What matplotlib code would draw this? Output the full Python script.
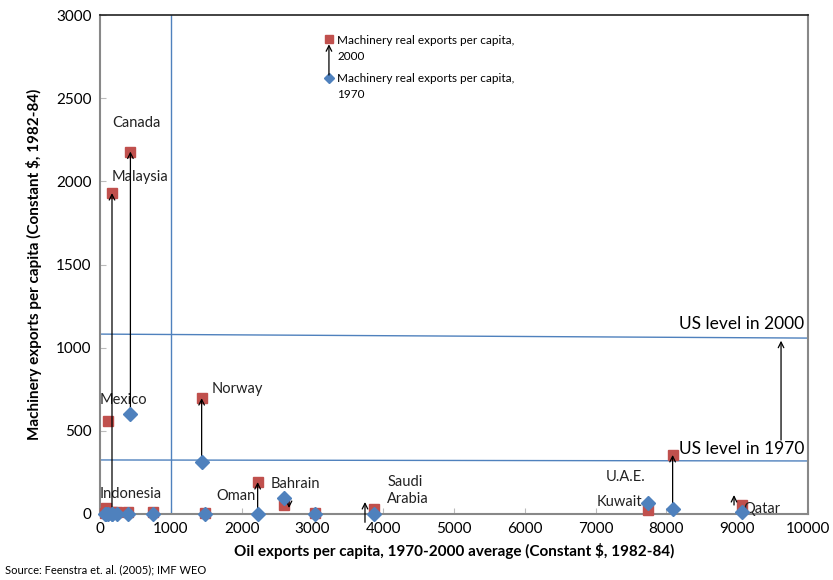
import matplotlib.pyplot as plt
import numpy as np

plt.rcParams['font.family'] = ['Lato', 'DejaVu Sans']

# oil exports per capita (x), machinery exports per capita 1970 / 2000
oil = [80, 110, 170, 430, 1436, 2227, 2600, 3870, 7740, 8088, 9068,
       71, 165, 236, 395, 749, 1483, 3037]
mach_1970 = [0, 0, 0, 600, 314, 0, 96, 0, 66, 30, 14,
             0, 0, 0, 0, 0, 0, 0]
mach_2000 = [38, 559, 1930, 2180, 697, 192, 54, 30, 24, 355, 54,
             5, 10, 10, 10, 15, 5, 5]

# (x, y_from, y_to) of the hand drawn arrows
arrows = [(170, 0, 1930), (430, 600, 2180), (1436, 314, 697), (2227, 0, 192),
          (2670, 96, 36), (3743, -50, 72), (7613, 114, -6), (8088, 30, 355),
          (8955, 54, 114), (9619, 445, 1042)]

labels = ['Canada', 'Malaysia', 'Mexico', 'Norway', 'Indonesia', 'Oman',
          'Bahrain', 'Saudi\nArabia', 'U.A.E.', 'Kuwait', 'Qatar']
label_x = [180, 170, 0, 1580, 0, 1650, 2410, 4060, 7140, 7010, 9080]
label_y = [2307, 1982, 642, 712, 77, 67, 140, 50, 180, 32, -13]

us_1970 = [325, 319]
us_2000 = [1082, 1058]

red = '#C0504D'
blue = '#4F81BD'

fig = plt.figure(figsize=(8.33, 5.8), dpi=100)
ax = fig.add_axes([0.12, 0.1138, 0.85, 0.86])

ax.plot([0, 10000], us_2000, color=blue, lw=1)
ax.plot([0, 10000], us_1970, color=blue, lw=1)
ax.axvline(1000, color=blue, lw=1)

for x, y0, y1 in arrows:
    ax.annotate('', xy=(x, y1), xytext=(x, y0),
                arrowprops=dict(arrowstyle='->', color='black', lw=0.9,
                                shrinkA=0, shrinkB=0), zorder=4)

ax.plot(oil, mach_2000, 's', color=red, ms=7.5, zorder=3, clip_on=False)
ax.plot(oil, mach_1970, 'D', color=blue, ms=7, zorder=5, clip_on=False)

for t, x, y in zip(labels, label_x, label_y):
    ax.text(x, y, t, fontsize=10.5, ha='left', va='bottom', color='#222222')

ax.text(9950, 1095, 'US level in 2000', fontsize=12.5, ha='right', va='bottom')
ax.text(9950, 340, 'US level in 1970', fontsize=12.5, ha='right', va='bottom')

# legend drawn inside the plot
ax.plot([3234], [2856], 's', color=red, ms=6, zorder=3)
ax.plot([3234], [2622], 'D', color=blue, ms=5, zorder=3)
ax.annotate('', xy=(3234, 2825), xytext=(3234, 2640),
            arrowprops=dict(arrowstyle='->', color='black', lw=0.9,
                            shrinkA=0, shrinkB=0))
ax.text(3350, 2880, 'Machinery real exports per capita,\n2000', fontsize=8.5,
        va='top', ha='left', linespacing=1.5)
ax.text(3350, 2650, 'Machinery real exports per capita,\n1970', fontsize=8.5,
        va='top', ha='left', linespacing=1.5)

ax.set_xlim(0, 10000)
ax.set_ylim(0, 3000)
ax.set_xticks(np.arange(0, 10001, 1000))
ax.set_yticks(np.arange(0, 3001, 500))
ax.tick_params(direction='in', length=4, color='#BBBBBB', labelsize=11,
               pad=6)
for s in ['left', 'bottom', 'right']:
    ax.spines[s].set_color('#888888')
    ax.spines[s].set_linewidth(1.5)
ax.spines['top'].set_color('#222222')
ax.spines['top'].set_linewidth(1.2)

ax.set_xlabel('Oil exports per capita, 1970-2000 average (Constant $, 1982-84)',
              fontsize=11, fontweight='bold', labelpad=5)
ax.set_ylabel('Machinery exports per capita (Constant $, 1982-84)',
              fontsize=11, fontweight='bold', labelpad=10)

fig.text(0.006, 0.012, 'Source: Feenstra et. al. (2005); IMF WEO', fontsize=8)

fig.savefig('out.png', dpi=100)
